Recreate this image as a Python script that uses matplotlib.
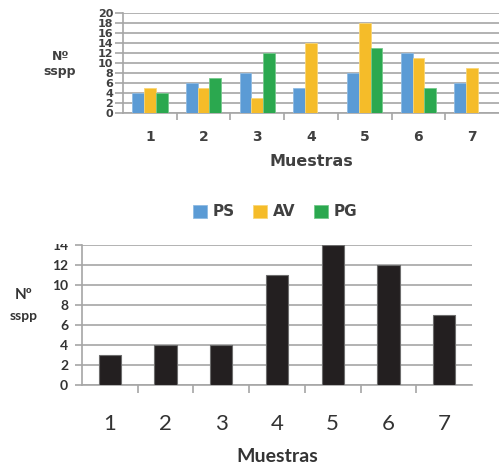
"""
Número de especies por muestra: PS / AV / PG arriba, total abajo
"""

import matplotlib.pyplot as plt
from matplotlib.patches import Rectangle
import numpy as np

# datos
muestras = ['1', '2', '3', '4', '5', '6', '7']
ps = [4, 6, 8, 5, 8, 12, 6]
av = [5, 5, 3, 14, 18, 11, 9]
pg = [4, 7, 12, 0, 13, 5, 0]
total = [3, 4, 4, 11, 14, 12, 7]

W, H = 499, 470
fig = plt.figure(figsize=(W / 100, H / 100), dpi=100)

def ax_rect(x0, y0, x1, y1):
    # pixeles -> coordenadas de figura
    return [x0 / W, 1 - y1 / H, (x1 - x0) / W, (y1 - y0) / H]

grid_c = '#a6a6a6'
text_c = '#404040'

# ---- grafico de arriba ----
ax1 = fig.add_axes(ax_rect(123, 13, 499, 113))
x = np.arange(1, len(muestras) + 1)
bw = 0.22
ax1.bar(x - bw, ps, bw, color='#5b9bd5', edgecolor='#8fbbe3', linewidth=0.6, zorder=3, label='PS')
ax1.bar(x, av, bw, color='#f5bc29', edgecolor='#f9d677', linewidth=0.6, zorder=3, label='AV')
ax1.bar(x + bw, pg, bw, color='#2ba84f', edgecolor='#74c98b', linewidth=0.6, zorder=3, label='PG')
ax1.set_xlim(0.5, 7.5)
ax1.set_ylim(0, 20)
ax1.set_yticks(range(0, 21, 2))
ax1.set_yticklabels([str(v) for v in range(0, 21, 2)], fontsize=8, fontweight='bold', color=text_c)
ax1.set_xticks(x)
ax1.set_xticklabels(muestras, fontsize=10, fontweight='bold', color=text_c)
ax1.set_xticks(np.arange(1.5, 7.5, 1), minor=True)
ax1.tick_params(axis='x', which='major', length=0, pad=12)
ax1.tick_params(axis='x', which='minor', length=5, color=grid_c, width=1.2)
ax1.tick_params(axis='y', length=6, color=grid_c, width=1.2, pad=1)
ax1.yaxis.grid(True, color=grid_c, linewidth=1.2, zorder=0)
for s in ['top', 'right']:
    ax1.spines[s].set_visible(False)
for s in ['left', 'bottom']:
    ax1.spines[s].set_color(grid_c)
    ax1.spines[s].set_linewidth(1.2)
fig.text(61 / W, 1 - 56 / H, 'Nº', ha='center', va='center', fontsize=9, fontweight='bold', color=text_c)
fig.text(60 / W, 1 - 72 / H, 'sspp', ha='center', va='center', fontsize=9, fontweight='bold', color=text_c)
fig.text(311 / W, 1 - 162 / H, 'Muestras', ha='center', va='center', fontsize=11.5, fontweight='bold', color=text_c)
fig.legend(loc='center', bbox_to_anchor=(275 / W, 1 - 212 / H), ncol=3, frameon=False,
           prop={'size': 11, 'weight': 'bold'}, handlelength=0.9, handleheight=0.9,
           handletextpad=0.4, columnspacing=1.2, labelcolor=text_c)

# ---- grafico de abajo ----
ax2 = fig.add_axes(ax_rect(82, 245, 472, 385))
ax2.bar(x, total, 0.4, color='#231f20', edgecolor='#6d6d6d', linewidth=0.8, zorder=3)
ax2.set_xlim(0.5, 7.5)
ax2.set_ylim(0, 14)
ax2.set_yticks(range(0, 15, 2))
ax2.set_yticklabels([str(v) for v in range(0, 15, 2)], fontsize=10, fontweight='bold',
                    color='#333333', family='Lato')
ax2.set_xticks(x)
ax2.set_xticklabels(muestras, fontsize=16, color='#333333', family='Lato')
ax2.set_xticks(np.arange(1.5, 7.5, 1), minor=True)
ax2.tick_params(axis='x', which='major', length=0, pad=21)
ax2.tick_params(axis='x', which='minor', length=6, color=grid_c, width=1.2)
ax2.tick_params(axis='y', length=5, color=grid_c, width=1.2, pad=5)
ax2.yaxis.grid(True, color=grid_c, linewidth=1.2, zorder=0)
for s in ['top', 'right']:
    ax2.spines[s].set_visible(False)
for s in ['left', 'bottom']:
    ax2.spines[s].set_color(grid_c)
    ax2.spines[s].set_linewidth(1.2)
fig.text(24 / W, 1 - 295 / H, 'Nº', ha='center', va='center', fontsize=11, fontweight='bold',
         color='#333333', family='Lato')
fig.text(24 / W, 1 - 316 / H, 'sspp', ha='center', va='center', fontsize=10, fontweight='bold',
         color='#333333', family='Lato')
fig.text(277 / W, 1 - 457 / H, 'Muestras', ha='center', va='center', fontsize=14, fontweight='bold',
         color='#333333', family='Lato')

# la etiqueta 14 sale cortada en el original
fig.patches.append(Rectangle((40 / W, 1 - 244 / H), 40 / W, 20 / H, transform=fig.transFigure,
                             facecolor='white', edgecolor='none', zorder=10))

plt.savefig('out.png', dpi=100)
